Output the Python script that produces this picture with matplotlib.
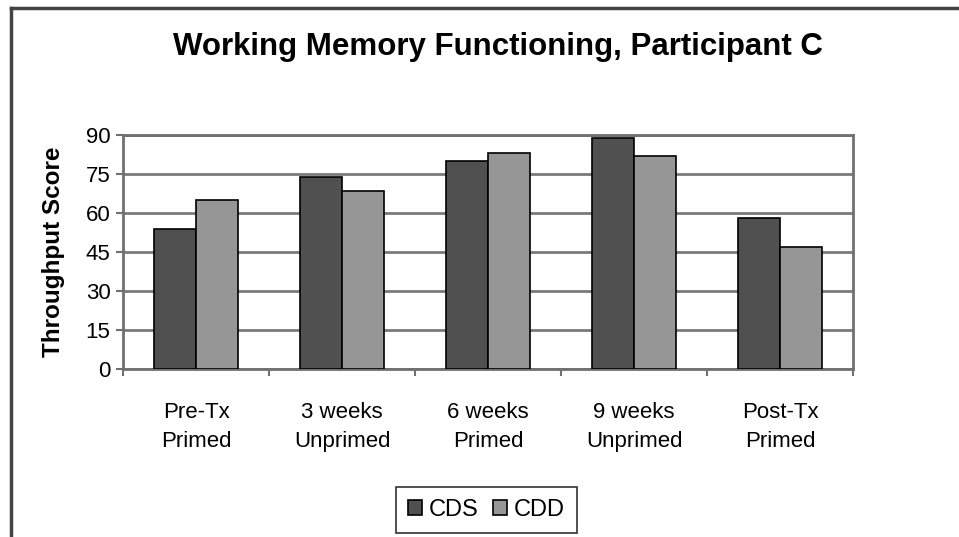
import numpy as np
import matplotlib.pyplot as plt

plt.rcParams['font.family'] = ['Liberation Sans', 'DejaVu Sans']

# Data
categories = ['Pre-Tx\nPrimed', '3 weeks\nUnprimed', '6 weeks\nPrimed',
              '9 weeks\nUnprimed', 'Post-Tx\nPrimed']
cds = [54, 74, 80, 89, 58]
cdd = [65, 68.5, 83, 82, 47]
yticks = [0, 15, 30, 45, 60, 75, 90]

fig = plt.figure(figsize=(9.59, 5.37), dpi=100)

# outer frame (only left and top edges visible in the reference)
fig.add_artist(plt.Line2D([0.0115, 0.0115], [0, 0.985], color='#444444', lw=2.5,
                          transform=fig.transFigure))
fig.add_artist(plt.Line2D([0.0115, 1.0], [0.985, 0.985], color='#444444', lw=2.5,
                          transform=fig.transFigure))

ax = fig.add_axes([0.1283, 0.3128, 0.7612, 0.4358])

x = np.arange(len(categories))
w = 0.29
ax.bar(x - w / 2, cds, w, color='#505050', edgecolor='black', lw=1.2,
       label='CDS', zorder=3)
ax.bar(x + w / 2, cdd, w, color='#969696', edgecolor='black', lw=1.2,
       label='CDD', zorder=3)

ax.set_xlim(-0.5, len(categories) - 0.5)
ax.set_ylim(0, 90)
ax.set_yticks(yticks)
ax.set_yticklabels([str(t) for t in yticks], fontsize=16)
ax.yaxis.grid(True, color='#7a7a7a', lw=2, zorder=0)

# category ticks sit on group boundaries, labels in the middle
ax.set_xticks(np.arange(len(categories) + 1) - 0.5)
ax.set_xticklabels([''] * (len(categories) + 1))
ax.set_xticks(x, minor=True)
ax.set_xticklabels(categories, minor=True, fontsize=16, linespacing=1.45)
ax.tick_params(axis='x', which='minor', length=0, pad=24)
ax.tick_params(axis='x', which='major', length=5, color='#707070', width=1.5)
ax.tick_params(axis='y', length=5, color='#707070', width=1.5, pad=4)

for s in ax.spines.values():
    s.set_color('#707070')
    s.set_linewidth(2)

ax.set_ylabel('Throughput Score', fontsize=17.5, fontweight='bold', labelpad=15)
fig.text(0.519, 0.913, 'Working Memory Functioning, Participant C',
         ha='center', va='center', fontsize=22.5, fontweight='bold')

leg = fig.legend(loc='center', bbox_to_anchor=(0.507, 0.05), ncol=2,
                 fontsize=17, frameon=True, fancybox=False, edgecolor='black',
                 handlelength=0.6, handleheight=0.6, handletextpad=0.3,
                 columnspacing=0.6, borderpad=0.5)
leg.get_frame().set_linewidth(1.2)

fig.savefig('out.png', dpi=100)
